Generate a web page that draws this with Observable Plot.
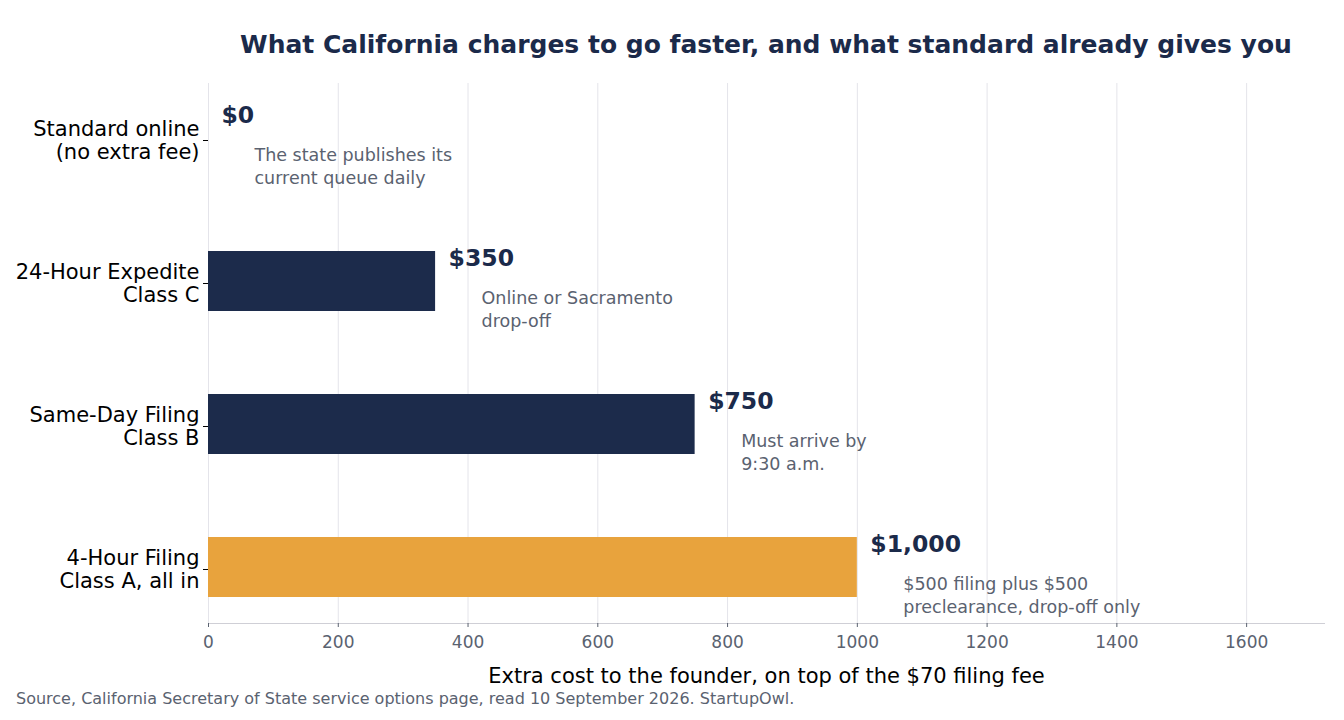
<!DOCTYPE html>
<html><head><meta charset="utf-8">
<script src="https://cdn.jsdelivr.net/npm/d3@7"></script>
<script src="https://cdn.jsdelivr.net/npm/@observablehq/plot@0.6"></script>
<style>
body{margin:0;background:#fff;font-family:"DejaVu Sans",sans-serif;}
#wrap{position:relative;width:1344px;height:720px;}
#title{position:absolute;left:208px;width:1116px;top:32px;text-align:center;font-size:25px;font-weight:bold;color:#1b2a4a;line-height:1;white-space:nowrap;}
#src{position:absolute;left:16px;top:691px;font-size:16px;color:#5a6270;line-height:1;white-space:nowrap;}
#chart{position:absolute;left:0;top:0;}
</style></head>
<body>
<div id="wrap">
<div id="chart"></div>
<div id="title">What California charges to go faster, and what standard already gives you</div>
<div id="src">Source, California Secretary of State service options page, read 10 September 2026. StartupOwl.</div>
</div>
<script>
const categories = ["Standard online\n(no extra fee)", "24-Hour Expedite\nClass C", "Same-Day Filing\nClass B", "4-Hour Filing\nClass A, all in"];
const costs = [0, 350, 750, 1000];
const notes = ["The state publishes its\ncurrent queue daily", "Online or Sacramento\ndrop-off", "Must arrive by\n9:30 a.m.", "$500 filing plus $500\npreclearance, drop-off only"];
const xTicks = [0, 200, 400, 600, 800, 1000, 1200, 1400, 1600];
const xLabel = "Extra cost to the founder, on top of the $70 filing fee";

const data = categories.map((c, i) => ({category: c, cost: costs[i], note: notes[i]}));
const fmt = v => "$" + d3.format(",")(v);

const chart = Plot.plot({
  width: 1344,
  height: 720,
  marginLeft: 208,
  marginRight: 20,
  marginTop: 83,
  marginBottom: 97,
  style: {fontFamily: "DejaVu Sans, sans-serif", background: "#fff"},
  x: {domain: [0, 1720]},
  y: {domain: categories, paddingInner: 0.58, paddingOuter: 0.17},
  color: {domain: categories, range: ["#1c2b4b", "#1c2b4b", "#1c2b4b", "#e8a33d"]},
  marks: [
    Plot.gridX(xTicks, {stroke: "#e4e4ea", strokeOpacity: 1}),
    Plot.barX(data, {x: "cost", y: "category", fill: "category"}),
    Plot.frame({anchor: "bottom", stroke: "#cfcfd6"}),
    Plot.axisX({ticks: xTicks, tickFormat: d => String(d), tickSize: 4, tickPadding: 8, fontSize: 17, fill: "#5a6270", stroke: "#5a6270", label: null}),
    Plot.axisY({tickSize: 5, tickPadding: 4, fontSize: 21, lineHeight: 1.1, dy: 2, fill: "#000", stroke: "#000", label: null}),
    Plot.text([xLabel], {frameAnchor: "bottom", dy: 59, fontSize: 21, fill: "#000"}),
    Plot.text(data, {x: "cost", y: "category", text: d => fmt(d.cost), dx: 13, dy: -23, textAnchor: "start", fontSize: 23.5, fontWeight: "bold", fill: "#1b2a4a"}),
    Plot.text(data, {x: "cost", y: "category", text: "note", dx: 46, dy: 27, textAnchor: "start", fontSize: 17.5, lineHeight: 1.31, fill: "#5a6270"})
  ]
});
document.getElementById("chart").appendChild(chart);
</script>
</body></html>
